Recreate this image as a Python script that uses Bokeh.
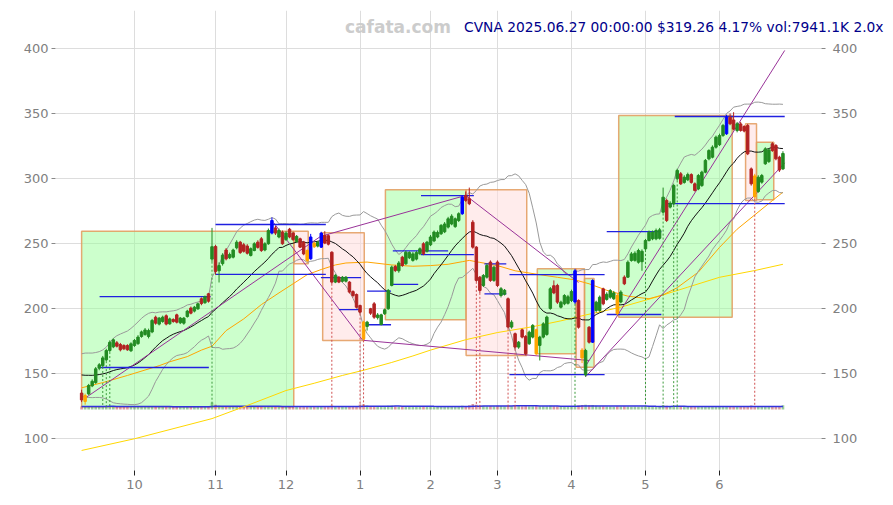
import numpy as np
from bokeh.plotting import figure
from bokeh.models import Range1d, LinearAxis, FixedTicker, Label, ColumnDataSource
from bokeh.embed import file_html
from bokeh.resources import INLINE

# ---------------- data ----------------
# trading-day index 0 = 2024-09-10 ... 199 = 2025-06-27
opens = [
134.9, 128.5, 134.3, 140.5, 143.0, 154.1, 156.0, 160.5, 167.7, 170.5,
173.6, 172.3, 171.5, 171.5, 167.5, 171.5, 173.0, 178.5, 180.0, 178.5,
182.0, 193.3, 188.0, 190.0, 194.4, 188.2, 191.5, 195.1, 189.0, 188.7,
193.8, 200.3, 198.0, 199.7, 207.5, 204.5, 211.3, 238.0, 247.7, 229.0,
234.5, 245.0, 239.0, 239.5, 246.7, 251.0, 249.0, 248.0, 240.8, 244.6,
251.0, 253.6, 245.0, 249.8, 258.0, 262.0, 255.0, 258.7, 253.0, 261.0,
258.0, 251.5, 253.6, 251.0, 244.6, 238.2, 250.3, 248.0, 247.2, 256.2,
256.0, 243.3, 220.3, 224.0, 221.0, 221.0, 220.3, 213.0, 210.8, 202.3,
189.5, 186.2, 199.8, 203.6, 193.0, 187.7, 196.0, 199.8, 217.7, 232.3,
229.0, 239.5, 234.4, 239.0, 237.0, 238.0, 242.1, 249.8, 244.0, 249.0,
252.0, 255.0, 257.5, 259.0, 262.6, 265.0, 263.0, 267.7, 272.9, 287.0,
284.4, 266.4, 247.2, 224.1, 217.7, 224.1, 235.7, 221.6, 235.7, 210.0,
211.0, 207.5, 185.7, 180.6, 170.3, 183.6, 178.5, 172.9, 178.0, 183.6,
171.6, 178.0, 180.0, 200.0, 217.5, 217.7, 201.0, 203.6, 204.0, 206.2,
205.0, 206.2, 168.0, 149.0, 185.6, 174.1, 198.5, 198.5, 215.1, 207.0,
208.7, 207.5, 210.0, 205.0, 224.1, 224.1, 236.9, 237.0, 235.6, 236.0,
245.9, 252.3, 253.6, 253.6, 254.0, 274.1, 283.1, 278.0, 280.5, 299.8,
303.6, 297.0, 299.0, 303.0, 295.9, 292.0, 294.6, 304.9, 315.1, 316.4,
324.1, 326.0, 333.1, 334.4, 347.2, 345.0, 336.9, 342.0, 340.0, 340.8,
307.4, 302.0, 290.0, 297.2, 311.3, 313.0, 326.7, 325.4, 316.4, 307.4,
]
closes = [
129.7, 133.0, 140.8, 144.0, 153.6, 156.7, 162.0, 167.7, 174.0, 175.9,
171.0, 168.2, 169.0, 168.2, 172.8, 175.4, 178.0, 182.0, 183.5, 183.0,
190.8, 188.7, 192.6, 193.3, 188.0, 192.0, 190.0, 189.5, 192.6, 192.6,
198.0, 196.4, 201.0, 203.6, 203.8, 209.0, 205.6, 247.5, 228.5, 233.0,
241.0, 238.2, 241.5, 245.0, 251.0, 243.0, 244.0, 242.5, 246.0, 249.8,
247.0, 244.6, 249.8, 260.0, 267.7, 258.0, 260.0, 249.8, 258.0, 255.0,
253.0, 255.5, 247.2, 242.0, 237.0, 255.0, 247.5, 251.0, 258.0, 250.3,
249.5, 220.3, 225.4, 220.3, 224.0, 224.0, 212.6, 210.0, 201.0, 197.2,
176.7, 189.5, 196.4, 193.3, 195.0, 195.1, 199.0, 213.9, 231.8, 229.2,
235.0, 233.1, 243.3, 243.0, 242.0, 243.0, 245.9, 242.1, 251.0, 255.0,
258.8, 258.5, 263.9, 265.0, 269.0, 271.0, 269.0, 272.9, 285.7, 283.1,
280.6, 247.2, 221.6, 213.9, 225.4, 233.1, 221.6, 231.8, 217.7, 215.2,
214.0, 185.7, 189.5, 170.3, 174.1, 178.0, 165.2, 181.8, 187.0, 165.2,
178.0, 188.2, 193.4, 215.2, 212.0, 204.9, 204.9, 210.0, 209.0, 213.0,
229.0, 185.6, 162.0, 167.7, 174.1, 221.5, 204.9, 208.7, 203.6, 211.0,
213.8, 212.0, 196.0, 212.6, 219.0, 235.6, 242.0, 242.5, 244.6, 244.0,
252.3, 258.7, 258.7, 260.0, 260.5, 285.6, 267.7, 281.0, 294.6, 306.2,
295.9, 301.0, 303.0, 297.0, 290.8, 302.3, 304.9, 313.9, 321.5, 324.1,
331.8, 333.0, 340.8, 347.2, 342.1, 338.0, 342.1, 337.0, 336.5, 319.0,
295.9, 286.0, 301.0, 302.3, 322.8, 322.0, 321.5, 315.1, 306.5, 319.26,
]
highs = [
137.5, 134.5, 142.0, 145.5, 155.0, 158.0, 163.5, 169.0, 175.5, 177.0,
175.0, 173.5, 172.5, 172.5, 174.0, 176.5, 179.5, 183.0, 185.0, 184.5,
192.0, 194.5, 193.5, 194.5, 195.5, 193.0, 192.5, 196.0, 193.5, 193.5,
199.0, 201.5, 202.0, 204.5, 208.5, 210.0, 212.0, 262.0, 249.0, 235.5,
242.5, 246.5, 243.0, 246.0, 252.5, 252.0, 250.5, 249.5, 247.0, 251.0,
252.5, 255.0, 251.0, 261.5, 270.0, 263.5, 261.5, 260.0, 259.5, 262.0,
259.0, 256.5, 254.5, 252.0, 245.5, 257.4, 251.0, 252.0, 259.0, 259.5,
257.0, 244.0, 226.5, 225.0, 225.0, 225.0, 221.0, 214.0, 211.5, 203.0,
190.5, 190.5, 200.5, 205.0, 196.5, 196.0, 200.0, 215.0, 233.0, 233.5,
236.5, 240.5, 244.5, 244.0, 243.5, 244.5, 247.0, 251.0, 252.0, 256.5,
260.0, 260.0, 265.0, 266.5, 270.5, 272.5, 270.0, 274.0, 287.0, 290.0,
293.0, 268.0, 248.0, 225.0, 226.5, 234.5, 237.0, 233.0, 237.0, 216.5,
215.0, 208.5, 191.0, 181.5, 175.0, 184.5, 179.5, 183.0, 188.0, 184.5,
179.0, 189.5, 194.5, 216.5, 221.6, 219.0, 206.0, 211.0, 210.5, 214.5,
230.5, 207.0, 169.5, 169.0, 186.5, 222.5, 206.0, 210.0, 216.0, 212.5,
215.0, 213.5, 211.5, 214.0, 225.5, 237.0, 243.5, 244.0, 246.0, 245.5,
253.5, 260.0, 260.0, 261.5, 262.0, 293.0, 284.5, 282.5, 296.0, 307.5,
305.0, 302.5, 304.5, 304.0, 297.0, 303.5, 306.0, 315.0, 322.5, 325.5,
333.0, 334.5, 342.0, 349.0, 350.0, 351.0, 343.5, 343.5, 341.0, 342.0,
308.5, 303.6, 302.5, 303.5, 324.0, 323.0, 328.0, 326.5, 317.5, 321.0,
]
lows = [
128.0, 126.0, 133.5, 139.5, 142.0, 152.5, 155.0, 159.5, 166.5, 169.5,
170.0, 167.0, 168.0, 167.5, 166.5, 170.5, 172.0, 177.5, 179.0, 177.0,
181.0, 187.5, 187.0, 189.0, 187.0, 187.5, 189.0, 188.5, 188.0, 187.5,
193.0, 195.5, 197.0, 199.0, 202.5, 203.5, 204.5, 236.0, 226.0, 220.0,
233.0, 237.0, 238.0, 238.5, 245.5, 242.0, 243.0, 241.5, 240.0, 244.0,
246.0, 243.5, 244.0, 249.0, 257.0, 256.5, 254.0, 249.0, 252.0, 254.0,
252.0, 250.5, 246.5, 241.0, 235.5, 237.5, 246.5, 247.0, 246.5, 249.5,
248.5, 219.0, 219.5, 219.5, 220.0, 220.0, 211.5, 208.5, 200.0, 196.0,
175.5, 183.0, 195.0, 192.0, 191.5, 187.0, 195.0, 199.0, 217.0, 228.0,
227.5, 232.0, 233.5, 238.0, 236.0, 237.0, 241.0, 241.0, 243.0, 248.0,
251.0, 254.0, 256.5, 258.0, 261.5, 264.0, 262.0, 266.5, 272.0, 282.0,
279.5, 246.0, 220.5, 212.0, 216.5, 223.0, 220.5, 220.5, 216.5, 208.5,
210.0, 184.5, 184.5, 169.0, 169.0, 177.0, 164.0, 172.0, 177.0, 164.0,
160.0, 177.0, 179.0, 199.0, 211.0, 203.5, 200.0, 202.5, 203.0, 205.0,
203.6, 184.5, 158.0, 147.5, 173.0, 173.5, 197.0, 197.5, 202.5, 206.0,
207.5, 206.5, 194.6, 204.0, 218.0, 223.5, 236.0, 236.0, 234.5, 229.0,
245.0, 251.5, 252.5, 252.5, 253.0, 273.0, 266.5, 277.0, 279.5, 298.5,
295.0, 296.0, 298.0, 296.0, 290.0, 291.0, 293.5, 304.0, 314.0, 315.5,
323.0, 325.0, 332.0, 333.5, 341.0, 337.0, 335.5, 336.0, 335.5, 318.0,
294.5, 284.4, 289.0, 296.0, 310.5, 312.0, 320.5, 314.0, 305.0, 306.5,
]
volumes_k = [
4200, 3900, 4500, 4100, 5200, 4300, 4800, 4600, 5100, 4400, 3600, 3300, 3100, 3000, 3400,
3500, 3700, 3900, 3600, 3800, 4200, 3900, 3500, 3300, 3600, 3200, 3800, 3400, 3100, 3300,
3900, 3600, 3400, 3700, 4100, 3800, 4300, 15800,
9100, 6200, 5200, 4400, 3900, 3800, 4100, 4600, 3700, 3500, 3300, 3600, 3900, 4000, 3600,
4200, 5800, 4500, 3700, 3900,
3400, 3800, 3500, 3300, 3600, 3900, 4300, 5600, 3800, 3500, 4400, 3700, 3600, 7200, 5100,
3900, 3100, 2400, 3300, 3600, 4800,
9500, 10200, 6800, 5600, 4900, 4100, 4600, 4200, 5900, 7100, 4800, 3900, 4200, 3800, 3600,
3500, 3700, 3600, 4100, 3900,
3800, 4000, 3700, 4100, 3900, 4300, 4000, 3800, 4200, 6500, 5400, 7800, 11200, 9400, 6900,
5600, 5100, 5200, 4800,
5900, 5300, 4700, 6800, 5100, 6200, 5300, 4900, 5600, 4800, 4500, 5300, 5100, 4600, 4700,
5900, 4800, 5100, 4000, 3900, 3800,
3600, 6300, 7600, 8300, 8900, 7400, 8600, 5900, 4800, 4600, 4100, 3800, 3600, 4900, 4200,
4600, 4100, 3700, 3900, 3500, 4300,
5600, 4600, 3700, 3500, 3400, 8100, 6200, 4700, 5300, 4900, 4100, 3600, 3300, 3400, 3500,
3800, 3300, 3900, 4100, 3700, 4000,
3900, 4200, 4800, 4400, 3900, 3500, 3300, 3400, 5600, 6900, 5400, 4600, 4100, 3800, 3700,
3600, 4000, 4200, 7941.1,
]
# closes of the 19 sessions before the window (estimated from the start of the bands)
pre_closes = [138, 141, 145, 148, 150, 152, 155, 154, 157, 156, 158, 160, 158, 155, 152, 148, 143, 138, 140]

# pivot candles drawn highlighted
pivot_high_idx = [54, 65, 68, 108, 140, 145, 183]
pivot_low_idx = [1, 64, 66, 80, 129, 142, 152, 191]
# large-move days marked with dotted drop lines
sig_up_idx = [6, 7, 8, 37, 140, 160, 165, 168, 169]
sig_dn_idx = [71, 79, 80, 112, 113, 121, 123, 191]

# slow averages (index, value)
ma50_idx = [0, 6, 13, 16, 22, 25, 30, 34, 37, 41, 46, 51, 56, 60, 64, 68, 72, 75, 81, 88, 94, 99,
            104, 108, 110, 113, 118, 123, 130, 135, 140, 144, 149, 155, 161, 165, 169, 175, 181,
            186, 191, 196, 199]
ma50_val = [139, 143, 148.5, 151, 156, 159, 163, 168, 171, 183, 192, 203, 212, 219, 226, 230, 233.5,
            235, 235.7, 233.5, 232.5, 233, 234, 236, 237, 235.5, 233, 229, 226, 224, 222, 219, 214,
            209.5, 207.5, 210.5, 216, 228, 247, 261, 272, 283, 289.5]
ma200_idx = [0, 15, 37, 47, 58, 66, 74, 80, 88, 94, 99, 109, 118, 128, 136, 143, 153, 163, 172, 181, 191, 199]
ma200_val = [90.8, 99.8, 115.3, 125.4, 136.9, 142.5, 148.5, 152.5, 158.5, 163.5, 168, 176, 181.5, 186,
             190.5, 195, 201, 208.7, 216.4, 224, 229.2, 234]

# range boxes
box_left = [0, 60.3, 68.4, 86.2, 109.1, 129.3, 140.3, 142.7, 152.4, 188.4, 191.5]
box_right = [60.2, 64.3, 80.2, 109.1, 126.3, 140.3, 142.7, 145.4, 184.6, 191.5, 196.4]
box_top = [259.5, 259.5, 258.2, 291.3, 291.3, 230.5, 230.5, 223.0, 348.5, 342.1, 327.9]
box_bottom = [124.5, 234.4, 175.4, 191.3, 163.8, 165.2, 154.8, 154.8, 193.3, 283.1, 283.6]
box_up = [True, False, False, True, False, True, False, True, True, False, True]

# support / resistance segments
hl_start = [5.1, 5.1, 38.0, 38.0, 67.9, 73.0, 81.0, 81.0, 88.3, 88.3, 96.3, 96.3, 114.3, 114.3,
            121.4, 121.4, 149.0, 149.0, 166.4, 168.3]
hl_end = [36.6, 36.1, 69.3, 69.3, 79.3, 79.3, 87.8, 87.8, 104.0, 95.5, 111.3, 111.3, 120.5, 120.5,
          148.4, 148.4, 164.5, 164.5, 199.5, 199.5]
hl_price = [209.2, 154.6, 264.6, 226.2, 223.8, 199.2, 213.3, 187.5, 244.4, 218.5, 286.9, 241.5,
            234.4, 211.3, 226.0, 149.2, 259.2, 195.4, 280.7, 347.7]

# trend lines
tl_x0 = [0.85, 54.5, 68.5, 109.0, 80.0, 142.6, 143.0]
tl_y0 = [130.8, 266.0, 256.0, 287.0, 175.5, 154.0, 147.5]
tl_x1 = [68.2, 79.8, 109.0, 141.0, 144.0, 199.5, 199.5]
tl_y1 = [256.2, 175.4, 287.0, 220.0, 160.0, 398.5, 312.0]

month_tick_idx = [15, 38, 58, 79, 99, 118, 139, 160, 181]
month_labels = ["10", "11", "12", "1", "2", "3", "4", "5", "6"]
price_ticks = [100, 150, 200, 250, 300, 350, 400]

title_text = "CVNA 2025.06.27 00:00:00 $319.26 4.17% vol:7941.1K 2.0x"
watermark = "cafata.com"

# ---------------- derived ----------------
n = len(closes)
idx = list(range(n))
INC, DEC, PH, PL = "#228B22", "#B22222", "#0000FF", "#FFA500"
colors = []
for i in idx:
    if i in pivot_high_idx:
        colors.append(PH)
    elif i in pivot_low_idx:
        colors.append(PL)
    else:
        colors.append(INC if closes[i] >= opens[i] else DEC)

seq = pre_closes + closes
mid, upb, lob = [], [], []
for i in range(n):
    w = np.array(seq[i:i + 20], dtype=float)
    m, s = w.mean(), w.std()
    mid.append(m); upb.append(m + 2 * s); lob.append(m - 2 * s)

VOL_BASE, VOL_PAD, VOL_SCALE = 122.3, 1.2, 0.00027
vol_top = [VOL_BASE + VOL_PAD + v * VOL_SCALE for v in volumes_k]
vol_col = [INC if closes[i] >= opens[i] else DEC for i in idx]
vma = [VOL_BASE + VOL_PAD + np.mean(volumes_k[max(0, i - 19):i + 1]) * VOL_SCALE for i in idx]

# ---------------- figure ----------------
X0, X1 = -7.41, 228.1          # frame spans the title too
X_AXIS_END = 209.96            # where the price grid / right axis sit
p = figure(width=890, height=500, output_backend="svg", toolbar_location=None,
           x_range=Range1d(X0, X1), y_range=Range1d(75.38, 429.23),
           min_border_left=55, min_border_right=5, min_border_top=10, min_border_bottom=30)
p.outline_line_color = None
p.background_fill_color = "white"

p.xaxis.ticker = FixedTicker(ticks=month_tick_idx)
p.xaxis.major_label_overrides = {t: l for t, l in zip(month_tick_idx, month_labels)}
p.xgrid.ticker = FixedTicker(ticks=month_tick_idx)
p.xgrid.grid_line_color = "#dddddd"
p.yaxis.ticker = FixedTicker(ticks=price_ticks)
p.ygrid.grid_line_color = None

right_axis = LinearAxis(ticker=FixedTicker(ticks=price_ticks), fixed_location=X_AXIS_END)
p.add_layout(right_axis, "right")

for ax in (p.xaxis[0], p.yaxis[0], right_axis):
    ax.axis_line_color = None
    ax.minor_tick_line_color = None
    ax.major_tick_in = 0
    ax.major_label_text_color = "#808080"
    ax.major_label_text_font = "DejaVu Sans"
    ax.major_label_text_font_size = "13px"
p.xaxis[0].major_tick_out = 5
p.xaxis[0].major_tick_line_color = "#222222"
p.xaxis[0].major_label_standoff = 4
p.yaxis[0].major_tick_out = 4
p.yaxis[0].major_tick_line_color = "#888888"
p.yaxis[0].major_label_standoff = 3
right_axis.major_tick_out = 4
right_axis.major_tick_line_color = "#888888"
right_axis.major_label_standoff = 7

# horizontal price grid, stopping at the right axis
p.segment([X0] * len(price_ticks), price_ticks, [X_AXIS_END] * len(price_ticks), price_ticks,
          color="#dddddd", line_width=1)

# boxes
bsrc = ColumnDataSource(dict(
    left=box_left, right=box_right, top=box_top, bottom=box_bottom,
    fill=["#99FF99" if u else "#FFDDDD" for u in box_up],
    alpha=[0.5 if u else 0.55 for u in box_up]))
p.quad(left="left", right="right", top="top", bottom="bottom", source=bsrc,
       fill_color="fill", fill_alpha="alpha", line_color="#E39A5C", line_alpha=0.85, line_width=1.5)

# volume
p.vbar(x=idx, width=0.75, bottom=VOL_BASE, top=vol_top, fill_color=vol_col, line_color=None, fill_alpha=0.45)
p.line(idx, vma, color="#3333DD", line_width=1.5)

# averages and bands
p.line(ma200_idx, ma200_val, color="#FFD700", line_width=1)
p.line(ma50_idx, ma50_val, color="#FFA500", line_width=1)
p.line(idx, upb, color="#999999", line_width=1)
p.line(idx, lob, color="#999999", line_width=1)
p.line(idx, mid, color="#111111", line_width=1)

# trend lines
p.segment(tl_x0, tl_y0, tl_x1, tl_y1, color="#993399", line_width=1)

# horizontal levels
p.segment(hl_start, hl_price, hl_end, hl_price, color="#2020E0", line_width=1.3)

# dotted signal drops
p.segment(sig_up_idx, [lows[i] for i in sig_up_idx], sig_up_idx,
          [124.5] * len(sig_up_idx), color="#3C9A3C", line_width=1, line_dash="2 2")
p.segment(sig_dn_idx, [lows[i] for i in sig_dn_idx], sig_dn_idx,
          [124.5] * len(sig_dn_idx), color="#D05050", line_width=1, line_dash="2 2")

# candles
csrc = ColumnDataSource(dict(x=idx, o=opens, c=closes, h=highs, l=lows,
                             top=[max(a, b) for a, b in zip(opens, closes)],
                             bot=[min(a, b) for a, b in zip(opens, closes)], col=colors))
p.segment(x0="x", y0="h", x1="x", y1="l", source=csrc, color="col", line_width=1)
p.vbar(x="x", width=0.7, top="top", bottom="bot", source=csrc, fill_color="col", line_color="col")

# texts
p.add_layout(Label(x=828, y=444, x_units="screen", y_units="screen", text=title_text,
                   text_align="right", text_baseline="middle", text_color="#00008B",
                   text_font="DejaVu Sans", text_font_size="13.8px"))
p.add_layout(Label(x=342.5, y=444, x_units="screen", y_units="screen", text=watermark,
                   text_align="center", text_baseline="middle", text_color="#CCCCCC",
                   text_font="DejaVu Sans", text_font_size="17px", text_font_style="bold"))

open("out.html", "w").write(file_html(p, INLINE))
